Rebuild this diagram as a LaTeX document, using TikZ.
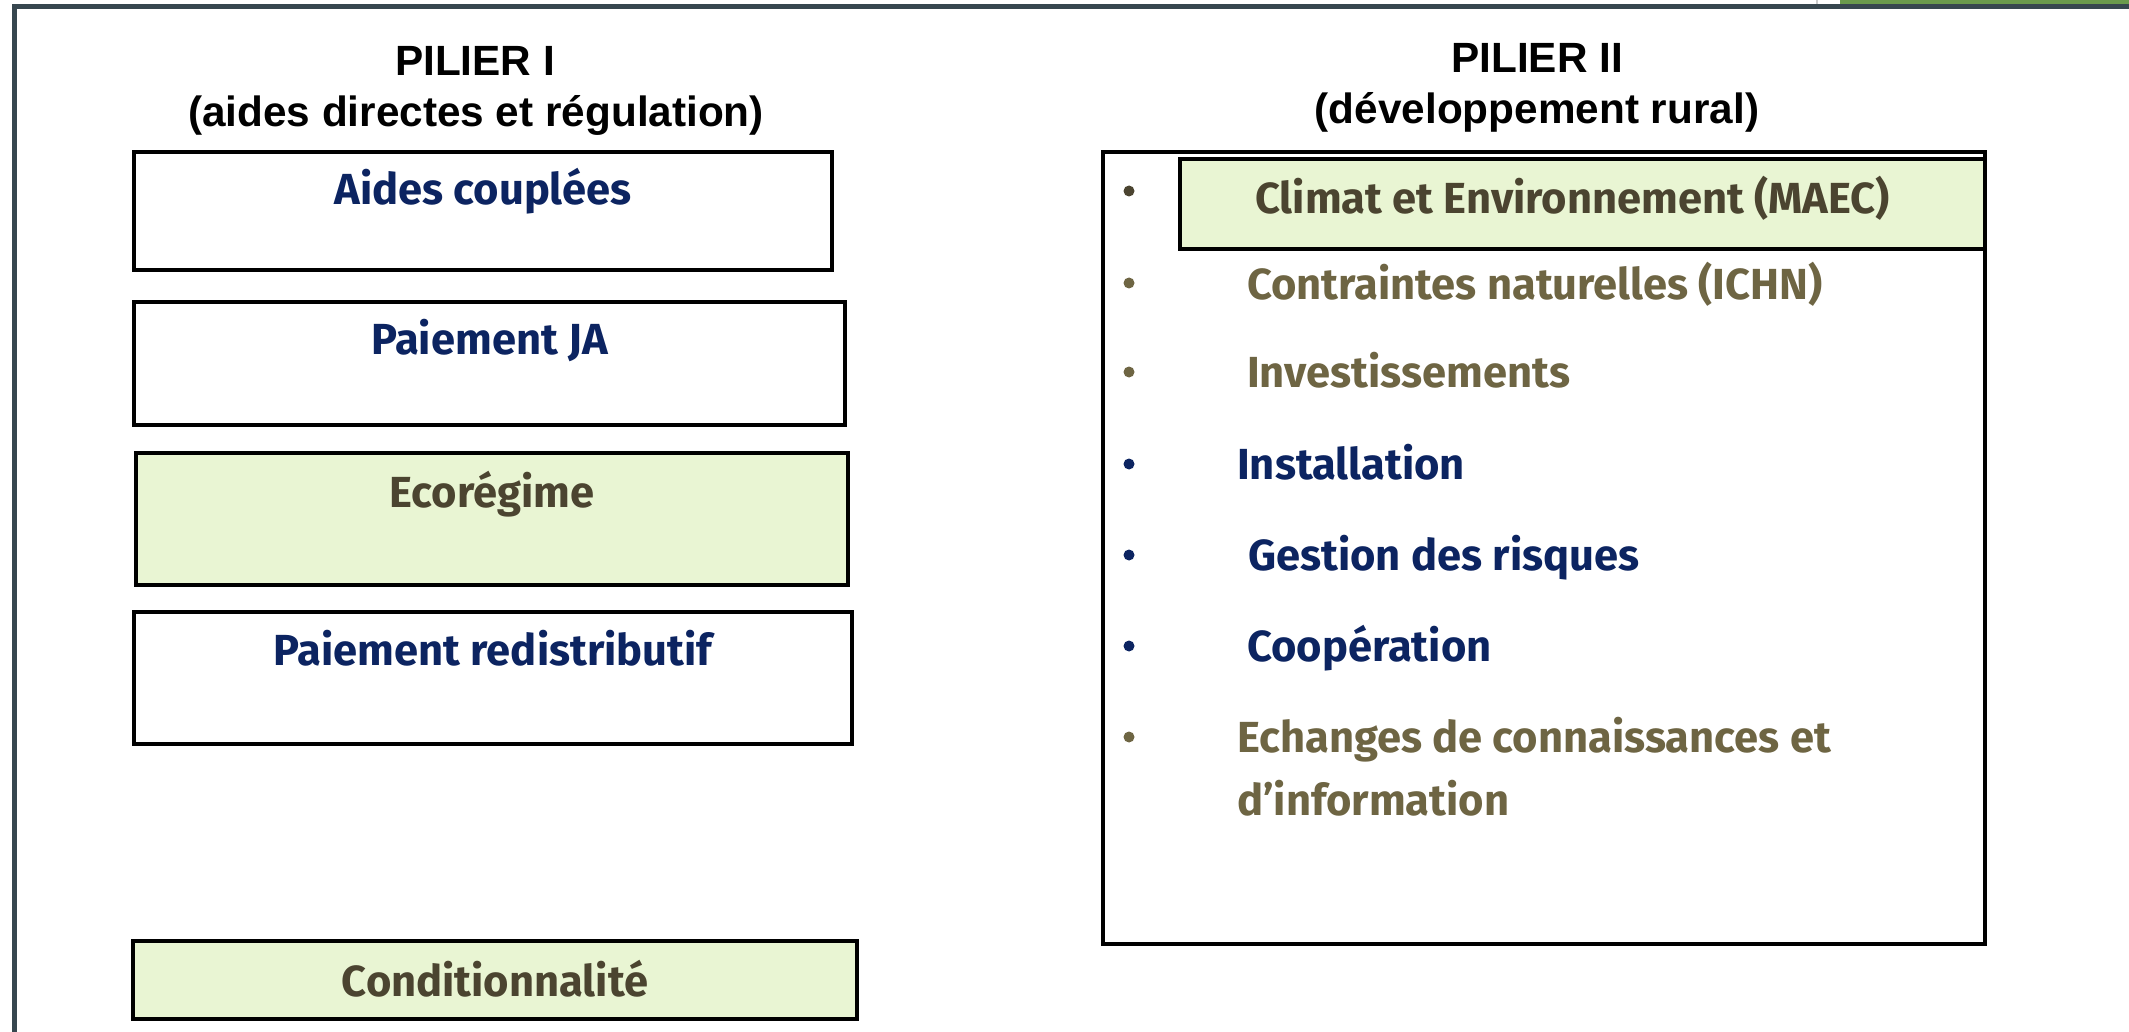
\documentclass[tikz,border=0pt]{standalone}
\usepackage{fontspec}
\setmainfont{Liberation Sans}
\newfontfamily\bodyfont{Fira Sans}
\definecolor{navy}{HTML}{0C2461}
\definecolor{olive}{HTML}{6E6543}
\definecolor{dbrown}{HTML}{4B4430}
\definecolor{gfill}{HTML}{E9F5D3}
\definecolor{framecol}{HTML}{37474F}
\definecolor{topgreen}{HTML}{6A9A4C}
\tikzset{
  boxst/.style={draw=black, line width=4pt},
  greenbox/.style={boxst, fill=gfill},
  title/.style={inner sep=0pt, anchor=base, font=\fontsize{42.3}{50}\selectfont\bfseries},
  lbl/.style={inner sep=0pt, anchor=base, font=\fontsize{43.5}{50}\bodyfont\bfseries},
  item/.style={inner sep=0pt, anchor=base west, font=\fontsize{43.5}{50}\bodyfont\bfseries},
  bul/.style={circle, inner sep=0pt, minimum size=11pt},
}
\begin{document}
\begin{tikzpicture}[x=1pt,y=-1pt]
\useasboundingbox (0,0) rectangle (2129,1032);
% window frame
\fill[topgreen] (1840,0) rectangle (2129,4.5);
\draw[gray!40, line width=1.5pt] (1817,0) -- (1817,4.5);
\draw[framecol, line width=5pt] (14,1040) -- (14,6.5) -- (2135,6.5);
% titles
\node[title] (t1a) at (475,76) {PILIER I};
\node[title] (t1b) at (476,127) {(aides directes et régulation)};
\node[title] (t2a) at (1537,73) {PILIER II};
\node[title] (t2b) at (1537,124) {(développement rural)};
% left boxes
\draw[boxst] (134,152) rectangle (832,270);
\node[lbl, text=navy] (aides) at (483,205) {Aides couplées};
\draw[boxst] (134,302) rectangle (845,425);
\node[lbl, text=navy] (ja) at (489.5,355) {Paiement JA};
\draw[greenbox] (136,453) rectangle (848,585);
\node[lbl, text=dbrown] (eco) at (492,507) {Ecorégime};
\draw[boxst] (134,612) rectangle (852,744);
\node[lbl, text=navy] (redis) at (493,665) {Paiement redistributif};
\draw[greenbox] (133,940.5) rectangle (857,1019);
\node[lbl, text=dbrown] (cond) at (495,996) {Conditionnalité};
% right box
\draw[boxst] (1103,152) rectangle (1985,944);
\draw[greenbox] (1180,159) rectangle (1985,249);
\node[item, text=dbrown] (maec) at (1255,214) {Climat et Environnement (MAEC)};
\node[item, text=olive] (ichn) at (1247,300) {Contraintes naturelles (ICHN)};
\node[item, text=olive] (inv) at (1247,388) {Investissements};
\node[item, text=navy] (inst) at (1237,479) {Installation};
\node[item, text=navy] (gest) at (1248,570) {Gestion des risques};
\node[item, text=navy] (coop) at (1247,661) {Coopération};
\node[item, text=olive] (ech) at (1237,752) {Echanges de connaissances et};
\node[item, text=olive] (info) at (1237,815) {d’information};
% bullets
\node[bul, fill=dbrown] (b1) at (1129,191) {};
\node[bul, fill=olive] (b2) at (1129,283) {};
\node[bul, fill=olive] (b3) at (1129,372) {};
\node[bul, fill=navy] (b4) at (1129,464) {};
\node[bul, fill=navy] (b5) at (1129,555) {};
\node[bul, fill=navy] (b6) at (1129,646) {};
\node[bul, fill=olive] (b7) at (1129,737) {};
\end{tikzpicture}
\end{document}
